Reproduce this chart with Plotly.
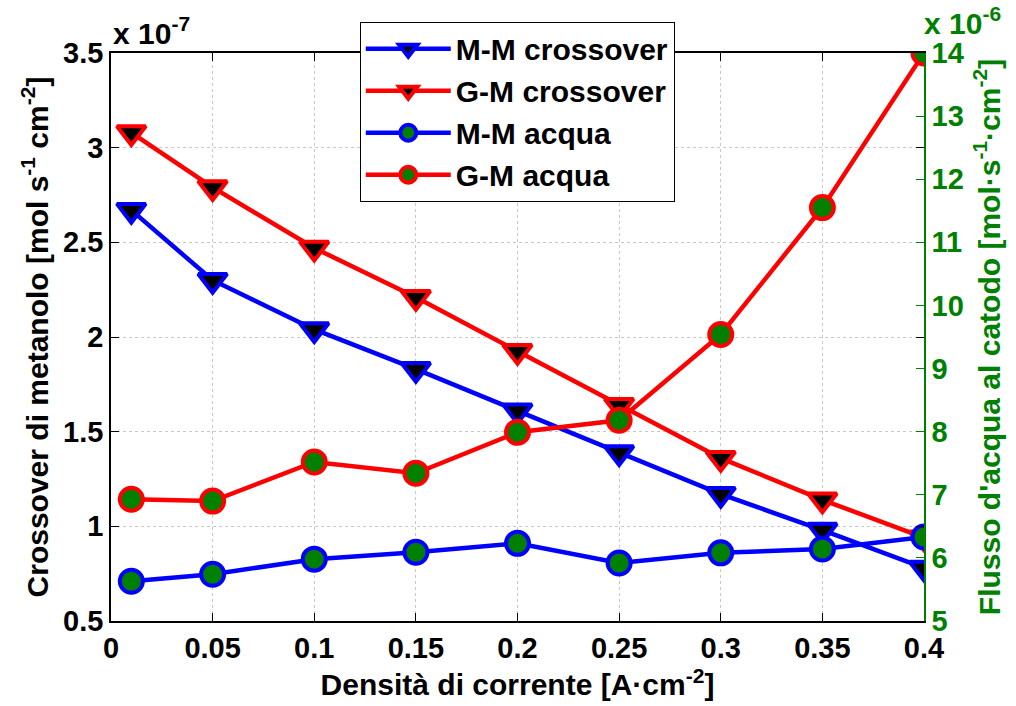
import plotly.graph_objects as go

# Current density [A/cm^2]
current_density = [0.01, 0.05, 0.10, 0.15, 0.20, 0.25, 0.30, 0.35, 0.40]

# Methanol crossover, units of 1e-7 mol s^-1 cm^-2
mm_crossover = [2.67, 2.30, 2.04, 1.83, 1.61, 1.39, 1.17, 0.98, 0.78]
gm_crossover = [3.08, 2.79, 2.47, 2.21, 1.925, 1.64, 1.36, 1.14, 0.94]

# Water flux at the cathode, units of 1e-6 mol s^-1 cm^-2
mm_acqua = [5.63, 5.74, 5.98, 6.09, 6.23, 5.92, 6.08, 6.14, 6.33]
gm_acqua = [6.93, 6.90, 7.52, 7.34, 7.99, 8.18, 9.54, 11.55, 14.0]

x_ticks = [0, 0.05, 0.1, 0.15, 0.2, 0.25, 0.3, 0.35, 0.4]
left_ticks = [0.5, 1, 1.5, 2, 2.5, 3, 3.5]
right_ticks = [5, 6, 7, 8, 9, 10, 11, 12, 13, 14]

BLUE = "#0000FF"
RED = "#FF0000"
GREEN = "#008000"
FONT = "Liberation Sans, Arial, sans-serif"
TICK_SIZE = 29
TITLE_SIZE = 30

fig = go.Figure()


def crossover_trace(name, y, color):
    return go.Scatter(
        x=current_density, y=y, name=name, legendgroup=name,
        mode="lines+markers",
        line=dict(color=color, width=4.5),
        marker=dict(symbol="triangle-down", size=25, color="black",
                    line=dict(color=color, width=4)),
        yaxis="y",
    )


def acqua_trace(name, y, color):
    return go.Scatter(
        x=current_density, y=y, name=name, legendgroup=name,
        mode="lines+markers",
        line=dict(color=color, width=4.5),
        marker=dict(symbol="circle", size=23, color=GREEN,
                    line=dict(color=color, width=4)),
        yaxis="y2",
    )


fig.add_trace(crossover_trace("M-M crossover", mm_crossover, BLUE))
fig.add_trace(crossover_trace("G-M crossover", gm_crossover, RED))
fig.add_trace(acqua_trace("M-M acqua", mm_acqua, BLUE))
fig.add_trace(acqua_trace("G-M acqua", gm_acqua, RED))

tick_font = dict(family=FONT, size=TICK_SIZE, color="black", weight="bold")
title_font = dict(family=FONT, size=TITLE_SIZE, color="black", weight="bold")

fig.update_layout(
    width=1016, height=706,
    margin=dict(l=111, r=92, t=53, b=85),
    paper_bgcolor="white", plot_bgcolor="white",
    font=dict(family=FONT, weight="bold"),
    xaxis=dict(
        range=[0, 0.4], tickvals=x_ticks, ticks="inside", ticklen=8,
        tickcolor="black", showline=True, linecolor="black", linewidth=1.5,
        mirror="ticks", showgrid=True, gridcolor="#c8c8c8", griddash="dot",
        gridwidth=1, zeroline=False, tickfont=tick_font,
        title=dict(text="Densità di corrente [A·cm<sup>-2</sup>]",
                   font=title_font, standoff=6),
    ),
    yaxis=dict(
        range=[0.5, 3.5], tickvals=left_ticks, ticks="inside", ticklen=8,
        tickcolor="black", showline=True, linecolor="black", linewidth=1.5,
        mirror="ticks", showgrid=True, gridcolor="#c8c8c8", griddash="dot",
        gridwidth=1, zeroline=False, tickfont=tick_font,
        title=dict(text="Crossover di metanolo [mol s<sup>-1</sup> cm<sup>-2</sup>]",
                   font=title_font, standoff=6),
    ),
    yaxis2=dict(
        range=[5, 14], tickvals=right_ticks, overlaying="y", side="right",
        ticks="inside", ticklen=8, tickcolor=GREEN, showline=True,
        linecolor=GREEN, linewidth=1.5, showgrid=False, zeroline=False,
        tickfont=dict(family=FONT, size=TICK_SIZE, color=GREEN, weight="bold"),
        title=dict(text="Flusso d'acqua al catodo [mol·s<sup>-1</sup>·cm<sup>-2</sup>]",
                   font=dict(family=FONT, size=TITLE_SIZE, color=GREEN,
                             weight="bold"),
                   standoff=16),
    ),
    legend=dict(
        x=0.306, y=1.055, xanchor="left", yanchor="top",
        bgcolor="white", bordercolor="black", borderwidth=1,
        font=dict(family=FONT, size=TITLE_SIZE, color="black", weight="bold"),
        itemwidth=85, tracegroupgap=0,
    ),
    showlegend=True,
)

# Scale factors of the two value axes
fig.add_annotation(x=0, y=1.0, xref="paper", yref="paper", xanchor="left",
                   yanchor="bottom", yshift=1, showarrow=False,
                   text="x 10<sup>-7</sup>", font=title_font)
fig.add_annotation(x=1.0, y=1.0, xref="paper", yref="paper", xanchor="left",
                   yanchor="bottom", yshift=11, xshift=-2, showarrow=False,
                   text="x 10<sup>-6</sup>",
                   font=dict(family=FONT, size=TITLE_SIZE, color=GREEN,
                             weight="bold"))

fig.write_html("out.html")
